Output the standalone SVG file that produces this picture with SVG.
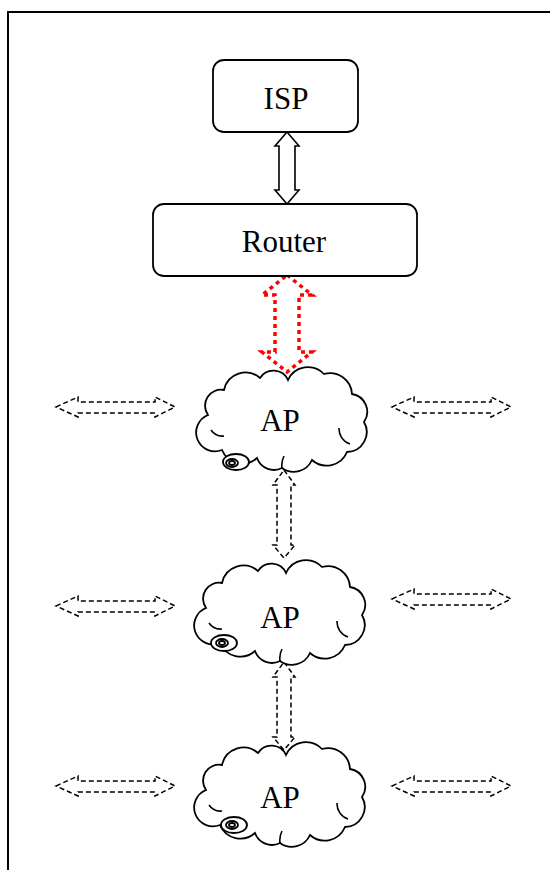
<svg xmlns="http://www.w3.org/2000/svg" xmlns:xlink="http://www.w3.org/1999/xlink" width="550" height="870" viewBox="0 0 550 870">
<style>
.box{fill:#fff;stroke:#000;stroke-width:1.8}
.lbl{font-family:"Liberation Serif","Times New Roman",serif;font-size:31px;fill:#000;text-anchor:middle}
.cloud{fill:#fff;stroke:#000;stroke-width:1.8}
.crease{fill:none;stroke:#000;stroke-width:1.6}
.bub{fill:#fff;stroke:#000;stroke-width:1.8}
.dash{fill:none;stroke:#000;stroke-width:1.5;stroke-dasharray:5 3}
.solid{fill:#fff;stroke:#000;stroke-width:1.6}
.red{fill:none;stroke:#ff0000;stroke-width:3.5;stroke-dasharray:4 4}
</style>
<defs>
<path id="cloudShape" d="M6,45 A16,16 0 0 1 22,20 A22,22 0 0 1 58,8 A16,16 0 0 1 86,10 A22,22 0 0 1 122,4 A22,22 0 0 1 150,24 A18,18 0 0 1 162,52 A20,20 0 0 1 145,82 A22,22 0 0 1 110,90 A20,20 0 0 1 80,98 A18,18 0 0 1 55,88 A22,22 0 0 1 20,80 A18,18 0 0 1 6,45 Z"/>
<path id="harrow" d="M0,0 L22,-10 L22,-5 L99,-5 L99,-10 L119,0 L99,10 L99,6 L22,6 L22,10 Z"/>
<path id="varrow" d="M0,0 L11,15 L7,15 L7,75 L11,75 L0,88 L-11,75 L-7,75 L-7,15 L-11,15 Z"/>
</defs>
<g id="border">
<path d="M8,870 L8,12 L550,12" fill="none" stroke="#000" stroke-width="2"/>
</g>
<g id="connectors">
<path class="solid" d="M287,132 L299,146 L295,146 L295,190 L299,190 L287,204 L275,190 L279,190 L279,146 L275,146 Z"/>
<path class="red" d="M287,275 L312,295 L299,295 L299,352 L312,352 L287,372 L262,352 L275,352 L275,295 L262,295 Z"/>
<use xlink:href="#varrow" href="#varrow" class="dash" transform="translate(284,470)"/>
<use xlink:href="#varrow" href="#varrow" class="dash" transform="translate(284,662)"/>
<use xlink:href="#harrow" href="#harrow" class="dash" transform="translate(56,407)"/>
<use xlink:href="#harrow" href="#harrow" class="dash" transform="translate(392,407)"/>
<use xlink:href="#harrow" href="#harrow" class="dash" transform="translate(56,606)"/>
<use xlink:href="#harrow" href="#harrow" class="dash" transform="translate(392,599)"/>
<use xlink:href="#harrow" href="#harrow" class="dash" transform="translate(56,786)"/>
<use xlink:href="#harrow" href="#harrow" class="dash" transform="translate(392,786)"/>
</g>
<g id="isp">
<rect class="box" x="213" y="60" width="145" height="72" rx="11"/>
<text class="lbl" x="286" y="109">ISP</text>
</g>
<g id="router">
<rect class="box" x="153" y="204" width="264" height="72" rx="11"/>
<text class="lbl" x="284" y="252">Router</text>
</g>
<g id="ap1" transform="translate(202,370)">
<use xlink:href="#cloudShape" href="#cloudShape" class="cloud"/>
<path class="crease" d="M9,60 A14,14 0 0 0 22,66 M137,58 A16,16 0 0 0 148,74 M80,98 A20,20 0 0 1 82,86"/>
<ellipse class="bub" cx="34" cy="92" rx="13" ry="8"/>
<ellipse class="bub" cx="30" cy="93" rx="6" ry="4"/>
<ellipse class="bub" cx="30" cy="93" rx="3" ry="2"/>
<text class="lbl" x="78" y="61">AP</text>
</g>
<g id="ap2" transform="translate(200,563)">
<use xlink:href="#cloudShape" href="#cloudShape" class="cloud"/>
<path class="crease" d="M9,60 A14,14 0 0 0 22,66 M137,58 A16,16 0 0 0 148,74 M80,98 A20,20 0 0 1 82,86"/>
<ellipse class="bub" cx="24" cy="80" rx="13" ry="8"/>
<ellipse class="bub" cx="22" cy="80" rx="6" ry="4"/>
<ellipse class="bub" cx="22" cy="80" rx="3" ry="2"/>
<text class="lbl" x="80" y="65">AP</text>
</g>
<g id="ap3" transform="translate(200,745)">
<use xlink:href="#cloudShape" href="#cloudShape" class="cloud"/>
<path class="crease" d="M9,60 A14,14 0 0 0 22,66 M137,58 A16,16 0 0 0 148,74 M80,98 A20,20 0 0 1 82,86"/>
<ellipse class="bub" cx="34" cy="80" rx="13" ry="8"/>
<ellipse class="bub" cx="32" cy="80" rx="6" ry="4"/>
<ellipse class="bub" cx="32" cy="80" rx="3" ry="2"/>
<text class="lbl" x="80" y="63">AP</text>
</g>
</svg>
